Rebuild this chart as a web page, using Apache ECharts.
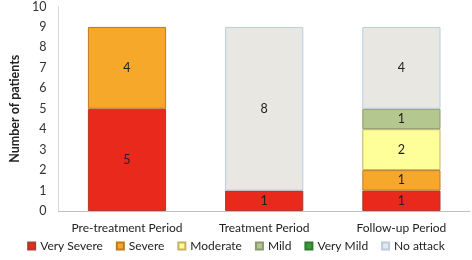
<!DOCTYPE html>
<html>
<head>
<meta charset="utf-8">
<script src="https://cdn.jsdelivr.net/npm/echarts@6/dist/echarts.min.js"></script>
<style>
  html, body { margin: 0; padding: 0; background: #fff; }
  #chart { width: 472px; height: 260px; }
</style>
</head>
<body>
<div id="chart"></div>
<script>
var categories = ['Pre-treatment Period', 'Treatment Period', 'Follow-up Period'];
var verySevere = [5, 1, 1];
var severe = [4, 0, 1];
var moderate = [0, 0, 2];
var mild = [0, 0, 1];
var veryMild = [0, 0, 0];
var noAttack = [0, 8, 4];
var yTicks = [0, 1, 2, 3, 4, 5, 6, 7, 8, 9, 10];

var font = 'Lato';

function makeSeries(name, data, color, border) {
    return {
        name: name,
        type: 'bar',
        stack: 'total',
        // zero segments are left empty so they draw no border
        data: data.map(function (v) { return v === 0 ? '-' : v; }),
        barCategoryGap: '43%',
        itemStyle: {
            color: color,
            borderColor: border,
            borderWidth: 1
        },
        label: {
            show: true,
            position: 'inside',
            fontFamily: font,
            fontSize: 12.5,
            color: '#222'
        }
    };
}

var chart = echarts.init(document.getElementById('chart'));
chart.setOption({
    animation: false,
    grid: { left: 40, right: 2, top: 5, bottom: 49 },
    legend: {
        bottom: 3,
        left: 'center',
        itemWidth: 7,
        itemHeight: 7,
        itemGap: 13,
        icon: 'rect',
        textStyle: { fontFamily: font, fontSize: 12, color: '#222' }
    },
    xAxis: {
        type: 'category',
        data: categories,
        axisLine: { lineStyle: { color: '#bfbfbf', width: 1 } },
        axisTick: { show: false },
        axisLabel: { fontFamily: font, fontSize: 12, color: '#222', margin: 11, interval: 0 }
    },
    yAxis: {
        type: 'value',
        min: yTicks[0],
        max: yTicks[yTicks.length - 1],
        interval: 1,
        name: 'Number of patients',
        nameLocation: 'middle',
        nameGap: 26,
        nameTextStyle: { fontFamily: font, fontSize: 12.5, fontWeight: 'bold', color: '#222' },
        axisLine: { show: true, lineStyle: { color: '#d9d9d9' } },
        axisTick: { show: false },
        splitLine: { show: false },
        axisLabel: { fontFamily: font, fontSize: 12.5, color: '#333', margin: 12 }
    },
    series: [
        makeSeries('Very Severe', verySevere, '#e8291c', '#b03a30'),
        makeSeries('Severe', severe, '#f6a82a', '#c0782a'),
        makeSeries('Moderate', moderate, '#ffff99', '#c8b060'),
        makeSeries('Mild', mild, '#b3c78e', '#8a9a70'),
        makeSeries('Very Mild', veryMild, '#3c9b3c', '#2e7a2e'),
        makeSeries('No attack', noAttack, '#e9e7e2', '#b8cce4')
    ]
});
</script>
</body>
</html>
